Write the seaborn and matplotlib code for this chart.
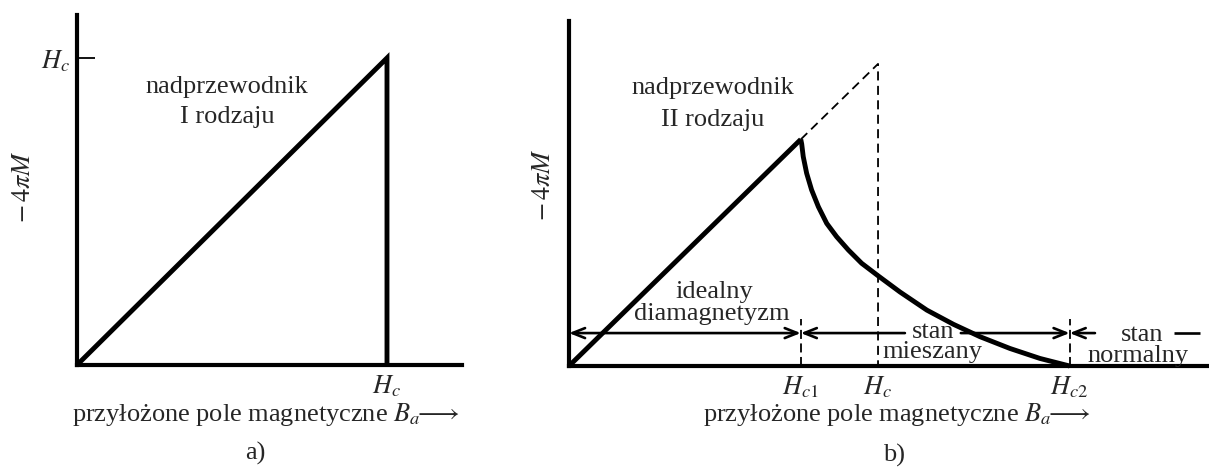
import matplotlib
matplotlib.use("Agg")
import matplotlib.pyplot as plt
import seaborn as sns

# ---- Type I superconductor: -4πM grows linearly up to Hc, then drops to zero
type1_field = [0.0, 1.0, 1.0]
type1_magnet = [0.0, 1.0, 0.0]

# ---- Type II superconductor
hc1, hc, hc2 = 0.75, 1.0, 1.62
meissner_field = [0.0, 0.75]
meissner_magnet = [0.0, 0.75]
mixed_field = [0.75, 0.753, 0.758, 0.769, 0.785, 0.807, 0.834, 0.866, 0.904,
               0.947, 1.001, 1.071, 1.158, 1.244, 1.330, 1.427, 1.524, 1.62]
mixed_magnet = [0.75, 0.735, 0.693, 0.638, 0.583, 0.527, 0.472, 0.428, 0.384,
                0.340, 0.298, 0.245, 0.185, 0.138, 0.097, 0.058, 0.025, 0.0]
# continuation of the ideal diamagnet up to the thermodynamic field Hc
ideal_field = [0.75, 1.0, 1.0]
ideal_magnet = [0.75, 1.0, 0.0]

region_y = 0.109          # height of the region arrows
xlabel_text = r"przyłożone pole magnetyczne $B_a\!\!\longrightarrow$"
ylabel_text = r"$-\,4\pi M$"

sns.set_theme(style="white")
plt.rcParams["font.family"] = ["Liberation Serif", "DejaVu Serif"]
plt.rcParams["mathtext.fontset"] = "stix"

W, H = 1209, 472
fig = plt.figure(figsize=(W / 100, H / 100), dpi=100)
ax1 = fig.add_axes([77 / W, 107 / H, 385 / W, 350 / H])
ax2 = fig.add_axes([569 / W, 106 / H, 640 / W, 345 / H])

FS = 19
LW = 3.5

for ax in (ax1, ax2):
    sns.despine(ax=ax)
    for side in ("left", "bottom"):
        ax.spines[side].set_linewidth(3.0)
        ax.spines[side].set_color("black")
    ax.set_facecolor("white")

ax1.set_xlim(0, 1.242)
ax1.set_ylim(0, 1.14)
ax2.set_xlim(0, 2.071)
ax2.set_ylim(0, 1.142)

line_kw = dict(color="black", sort=False, estimator=None, legend=False)

# ---- panel a)
sns.lineplot(x=type1_field, y=type1_magnet, ax=ax1, lw=LW, **line_kw)
ax1.text(0.484, 0.905, "nadprzewodnik", ha="center", va="center", fontsize=FS)
ax1.text(0.484, 0.808, "I rodzaju", ha="center", va="center", fontsize=FS)

ax1.set_xticks([hc], [r"$H_c$"])
ax1.set_yticks([hc], [r"$H_c$"])
ax1.tick_params(axis="x", bottom=True, length=0, pad=6, labelsize=FS)
ax1.tick_params(axis="y", left=True, direction="in", length=13, width=1.3,
                pad=5, labelsize=FS, color="black")

# ---- panel b)
sns.lineplot(x=meissner_field, y=meissner_magnet, ax=ax2, lw=LW, **line_kw)
sns.lineplot(x=mixed_field, y=mixed_magnet, ax=ax2, lw=LW, **line_kw)
sns.lineplot(x=ideal_field, y=ideal_magnet, ax=ax2, lw=1.3, **line_kw)
ax2.lines[-1].set_linestyle((0, (5, 3)))

for xv in (hc1, hc2):
    ax2.plot([xv, xv], [0, 0.155], color="black", lw=1.3,
             linestyle=(0, (5, 2.5)))

head = "head_length=0.75,head_width=0.3"
arrow_kw = dict(color="black", lw=1.9, shrinkA=0, shrinkB=0)


def region_arrow(x_from, x_to, style):
    ax2.annotate("", xy=(x_to, region_y), xytext=(x_from, region_y),
                 arrowprops=dict(arrowstyle=f"{style},{head}", **arrow_kw))


# ideal diamagnetism: origin <-> Hc1
region_arrow(hc1, 0.0, "<->")
# mixed state: Hc1 <- ... stan ... -> Hc2
region_arrow(1.087, hc1, "->")
region_arrow(1.268, hc2, "->")
# normal state: Hc2 <- ... stan ...
region_arrow(1.702, hc2, "->")
ax2.plot([1.958, 2.042], [region_y, region_y], color="black", lw=1.9)

ax2.text(0.466, 0.92, "nadprzewodnik", ha="center", va="center", fontsize=FS)
ax2.text(0.466, 0.815, "II rodzaju", ha="center", va="center", fontsize=FS)
ax2.text(0.469, 0.245, "idealny", ha="center", va="center", fontsize=FS)
ax2.text(0.463, 0.172, "diamagnetyzm", ha="center", va="center", fontsize=FS)
ax2.text(1.178, 0.112, "stan", ha="center", va="center", fontsize=FS)
ax2.text(1.175, 0.045, "mieszany", ha="center", va="center", fontsize=FS)
ax2.text(1.854, 0.102, "stan", ha="center", va="center", fontsize=FS)
ax2.text(1.841, 0.034, "normalny", ha="center", va="center", fontsize=FS)

ax2.set_xticks([hc1, hc, hc2], [r"$H_{c1}$", r"$H_c$", r"$H_{c2}$"])
ax2.set_yticks([])
ax2.tick_params(axis="x", bottom=True, length=0, pad=6, labelsize=FS)

# ---- axis labels and panel captions
ax1.set_xlabel(xlabel_text, fontsize=FS)
ax1.xaxis.set_label_coords(0.491, -0.102)
ax2.set_xlabel(xlabel_text, fontsize=FS)
ax2.xaxis.set_label_coords(0.5125, -0.102)

ax1.set_ylabel(ylabel_text, fontsize=FS)
ax1.yaxis.set_label_coords(-0.11, 0.509)
ax2.set_ylabel(ylabel_text, fontsize=FS)
ax2.yaxis.set_label_coords(-0.022, 0.525)

fig.text(255 / W, 1 - 453 / H, "a)", ha="center", va="center", fontsize=FS)
fig.text(894 / W, 1 - 455 / H, "b)", ha="center", va="center", fontsize=FS)

for ax in (ax1, ax2):
    for ln in ax.lines:
        ln.set_clip_on(False)
        ln.set_solid_joinstyle("miter")
        ln.set_solid_capstyle("butt")

fig.savefig("out.png", dpi=100, facecolor="white")
